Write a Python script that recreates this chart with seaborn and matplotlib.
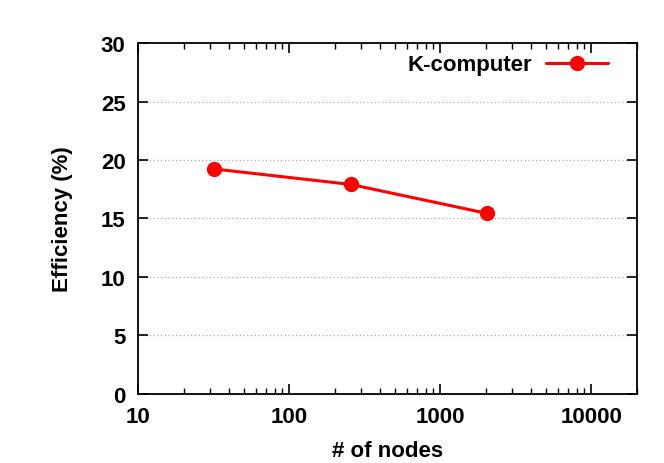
import matplotlib
matplotlib.use("Agg")
import matplotlib.pyplot as plt
import matplotlib.ticker as mticker
import pandas as pd
import seaborn as sns

# ── Data ───────────────────────────────────────────
nodes = [32, 256, 2048]
efficiency = [19.23, 17.91, 15.43]
series_name = "K-computer"
y_ticks = [0, 5, 10, 15, 20, 25, 30]
x_ticks = [10, 100, 1000, 10000]
x_tick_labels = ["10", "100", "1000", "10000"]

df = pd.DataFrame({"nodes": nodes, "efficiency": efficiency, "system": series_name})

# ── Style ──────────────────────────────────────────
sns.set_style("ticks")
plt.rcParams["font.family"] = ["Liberation Sans", "DejaVu Sans"]
plt.rcParams["font.weight"] = "bold"
plt.rcParams["text.color"] = "black"
plt.rcParams["xtick.color"] = "black"
plt.rcParams["ytick.color"] = "black"
plt.rcParams["axes.labelcolor"] = "black"

fig = plt.figure(figsize=(6.64, 4.64), dpi=100)
ax = fig.add_axes([0.208, 0.149, 0.751, 0.756])

sns.lineplot(data=df, x="nodes", y="efficiency", hue="system",
             palette=["#ff0000"], marker="o", markersize=11,
             markeredgewidth=0, linewidth=2.2, ax=ax, legend=False)
line = ax.lines[0]

ax.set_xscale("log")
ax.set_xlim(10, 20000)
ax.set_ylim(0, 30)
ax.set_xticks(x_ticks)
ax.set_xticklabels(x_tick_labels)
ax.xaxis.set_minor_locator(mticker.LogLocator(base=10, subs=range(2, 10)))
ax.xaxis.set_minor_formatter(mticker.NullFormatter())
ax.set_yticks(y_ticks)

# dotted horizontal grid, skipping the frame lines
for yv in y_ticks[1:-1]:
    ax.axhline(yv, color="#aaaaaa", linestyle=(0, (1, 2)), linewidth=0.9, zorder=0)

ax.tick_params(axis="both", which="major", direction="in", length=7, width=1.2,
               top=True, right=True, labelsize=16, pad=9)
ax.tick_params(axis="x", which="minor", direction="in", length=4, width=1.0,
               top=True, bottom=True)
for lbl in ax.get_xticklabels() + ax.get_yticklabels():
    lbl.set_fontweight("bold")

for sp in ax.spines.values():
    sp.set_linewidth(1.3)
    sp.set_color("black")

ax.set_xlabel("# of nodes", fontsize=16, fontweight="bold", labelpad=9)
ax.set_ylabel("Efficiency (%)", fontsize=16, fontweight="bold", labelpad=20)

ax.legend([line], [series_name], loc="upper right", bbox_to_anchor=(0.942, 0.968),
          frameon=False, prop={"size": 16, "weight": "bold"}, markerfirst=False,
          handlelength=2.8, handletextpad=0.6, borderpad=0, borderaxespad=0)

fig.savefig("out.png", dpi=100)
